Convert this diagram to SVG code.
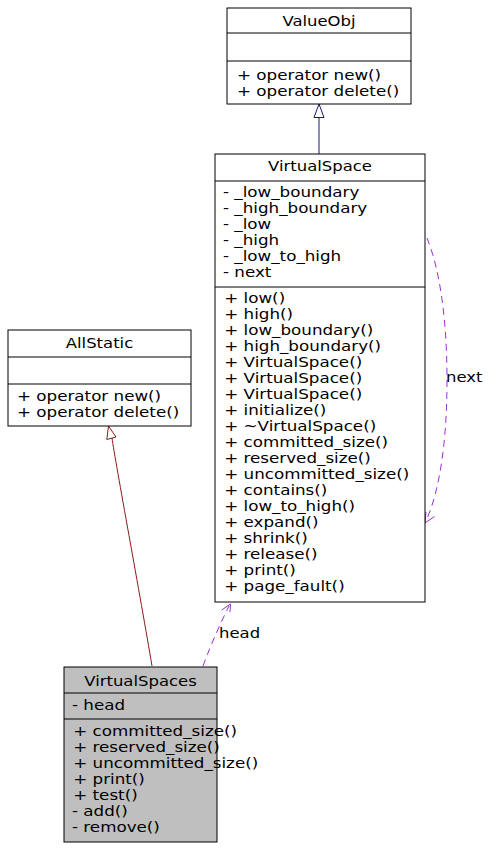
<svg xmlns="http://www.w3.org/2000/svg" width="491" height="850" viewBox="0 0 491 850">
<style>
text{font-family:"DejaVu Sans",Verdana,sans-serif;font-size:13.5px;fill:#000}
.t{text-anchor:middle}
.box{fill:#fff;stroke:#000;stroke-width:1}
.gray{fill:#bfbfbf}
.sep{stroke:#000;stroke-width:1}
.inh1{fill:none;stroke:#191970;stroke-width:1}
.inh2{fill:none;stroke:#8b1a1a;stroke-width:1}
.use{fill:none;stroke:#9a32cd;stroke-width:1;stroke-dasharray:7,5}
.usea{fill:none;stroke:#9a32cd;stroke-width:1}
</style>
<rect width="491" height="850" fill="#fff"/>
<g id="connectors">
<line class="inh1" x1="319" y1="154" x2="319" y2="117.5"/>
<polygon class="inh1" points="319,104 314,117.5 324,117.5" fill="#fff"/>
<path class="inh2" d="M152,666 C141,600 115,460 112,438"/>
<polygon class="inh2" points="108.5,426 106.8,439.5 116,437" fill="#fff"/>
<path class="use" d="M203,666 C208,652 218,628 229,606"/>
<polyline class="usea" points="221.7,610 230.5,604 230,612"/>
<text transform="translate(219,638) scale(1.22,1)">head</text>
<path class="use" d="M427,238 C440,270 447,320 447,380 C447,440 440,490 426,521"/>
<polyline class="usea" points="426,512 425,523 434.5,516.5"/>
<text transform="translate(446,382) scale(1.22,1)">next</text>
</g>
<g id="ValueObj">
<rect class="box" x="227" y="8" width="184" height="96"/>
<line class="sep" x1="227" y1="33" x2="411" y2="33"/>
<line class="sep" x1="227" y1="61" x2="411" y2="61"/>
<text class="t" transform="translate(319,26) scale(1.22,1)">ValueObj</text>
<g transform="translate(237,0) scale(1.24,1)">
<text x="0" y="80">+ operator new()</text>
<text x="0" y="96">+ operator delete()</text>
</g>
</g>
<g id="VirtualSpace">
<rect class="box" x="215" y="154" width="210" height="448"/>
<line class="sep" x1="215" y1="181" x2="425" y2="181"/>
<line class="sep" x1="215" y1="287" x2="425" y2="287"/>
<text class="t" transform="translate(320,171) scale(1.22,1)">VirtualSpace</text>
<g transform="translate(223,0) scale(1.24,1)">
<text x="0" y="197">- _low_boundary</text>
<text x="0" y="213">- _high_boundary</text>
<text x="0" y="229">- _low</text>
<text x="0" y="245">- _high</text>
<text x="0" y="261">- _low_to_high</text>
<text x="0" y="277">- next</text>
<text x="1" y="303">+ low()</text>
<text x="1" y="319">+ high()</text>
<text x="1" y="335">+ low_boundary()</text>
<text x="1" y="351">+ high_boundary()</text>
<text x="1" y="367">+ VirtualSpace()</text>
<text x="1" y="383">+ VirtualSpace()</text>
<text x="1" y="399">+ VirtualSpace()</text>
<text x="1" y="415">+ initialize()</text>
<text x="1" y="431">+ ~VirtualSpace()</text>
<text x="1" y="447">+ committed_size()</text>
<text x="1" y="463">+ reserved_size()</text>
<text x="1" y="479">+ uncommitted_size()</text>
<text x="1" y="495">+ contains()</text>
<text x="1" y="511">+ low_to_high()</text>
<text x="1" y="527">+ expand()</text>
<text x="1" y="543">+ shrink()</text>
<text x="1" y="559">+ release()</text>
<text x="1" y="575">+ print()</text>
<text x="1" y="591">+ page_fault()</text>
</g>
</g>
<g id="AllStatic">
<rect class="box" x="8" y="330" width="183" height="96"/>
<line class="sep" x1="8" y1="357" x2="191" y2="357"/>
<line class="sep" x1="8" y1="384" x2="191" y2="384"/>
<text class="t" transform="translate(99.5,348) scale(1.22,1)">AllStatic</text>
<g transform="translate(17,0) scale(1.24,1)">
<text x="0" y="401">+ operator new()</text>
<text x="0" y="417">+ operator delete()</text>
</g>
</g>
<g id="VirtualSpaces">
<rect class="box gray" x="64" y="667" width="153" height="175"/>
<line class="sep" x1="64" y1="693" x2="217" y2="693"/>
<line class="sep" x1="64" y1="719" x2="217" y2="719"/>
<text class="t" transform="translate(140.5,686) scale(1.22,1)">VirtualSpaces</text>
<g transform="translate(72,0) scale(1.24,1)">
<text x="0" y="710">- head</text>
<text x="1" y="736">+ committed_size()</text>
<text x="1" y="752">+ reserved_size()</text>
<text x="1" y="768">+ uncommitted_size()</text>
<text x="1" y="784">+ print()</text>
<text x="1" y="800">+ test()</text>
<text x="0" y="816">- add()</text>
<text x="0" y="832">- remove()</text>
</g>
</g>
</svg>
